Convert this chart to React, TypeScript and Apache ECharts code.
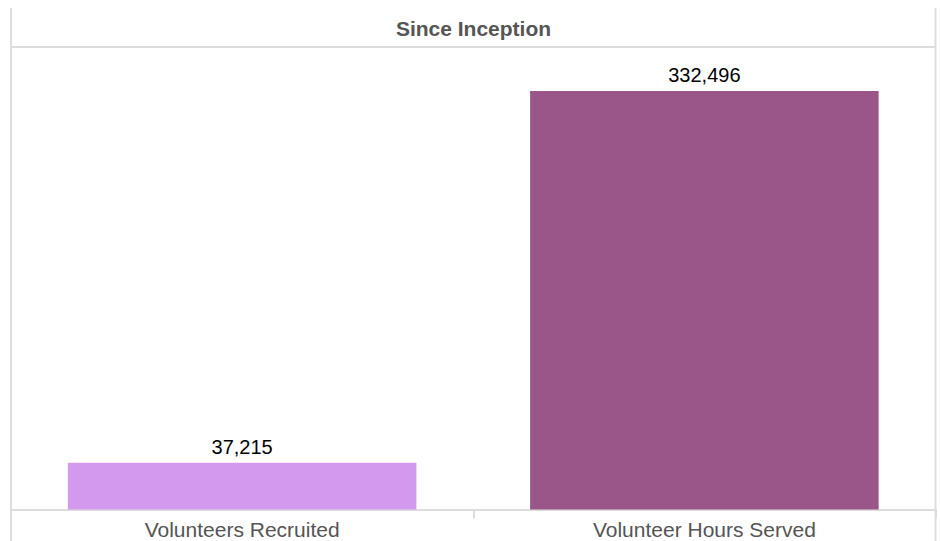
import React, { useEffect, useRef } from "react";
import * as echarts from "echarts";

const categories = ["Volunteers Recruited", "Volunteer Hours Served"];
const values = [37215, 332496];
const barColors = ["#D399EE", "#9A5689"];
const titleText = "Since Inception";

export default function App() {
  const ref = useRef<HTMLDivElement>(null);
  useEffect(() => {
    if (!ref.current) return;
    const chart = echarts.init(ref.current, undefined, { renderer: "svg" });
    const border = "#DDDDDD";
    chart.setOption({
      animation: false,
      backgroundColor: "#ffffff",
      textStyle: { fontFamily: "Liberation Sans, Arial, sans-serif" },
      grid: { left: 11, right: 4.5, top: 47, bottom: 31.5, containLabel: false },
      xAxis: {
        type: "category",
        data: categories,
        axisLine: { show: true, lineStyle: { color: border, width: 2 } },
        axisTick: { show: true, length: 9, lineStyle: { color: border, width: 2 } },
        axisLabel: {
          color: "#555555",
          fontSize: 21,
          margin: 9,
          fontFamily: "Liberation Sans, Arial, sans-serif",
        },
      },
      yAxis: {
        type: "value",
        min: 0,
        max: 367500,
        show: false,
        splitLine: { show: false },
      },
      series: [
        {
          type: "bar",
          barWidth: "75.4%",
          data: values.map((v, i) => ({ value: v, itemStyle: { color: barColors[i] } })),
          label: {
            show: true,
            position: "top",
            distance: 6,
            color: "#000000",
            fontSize: 20,
            fontFamily: "Liberation Sans, Arial, sans-serif",
            formatter: (p: any) => Number(p.value).toLocaleString("en-US"),
          },
        },
      ],
      graphic: [
        {
          type: "line",
          shape: { x1: 11, y1: 8, x2: 11, y2: 541 },
          style: { stroke: border, lineWidth: 2 },
          z: 10,
        },
        {
          type: "line",
          shape: { x1: 935.5, y1: 8, x2: 935.5, y2: 541 },
          style: { stroke: border, lineWidth: 2 },
          z: 10,
        },
        {
          type: "line",
          shape: { x1: 11, y1: 47, x2: 935.5, y2: 47 },
          style: { stroke: border, lineWidth: 2 },
          z: 10,
        },
        {
          type: "text",
          x: 473.5,
          y: 28,
          style: {
            text: titleText,
            fill: "#555555",
            font: "bold 21px 'Liberation Sans', Arial, sans-serif",
            textAlign: "center",
            textVerticalAlign: "middle",
          },
          z: 10,
        },
      ],
    });
    return () => chart.dispose();
  }, []);
  return (
    <div
      ref={ref}
      style={{ position: "fixed", left: 0, top: 0, width: 940, height: 541 }}
    />
  );
}
